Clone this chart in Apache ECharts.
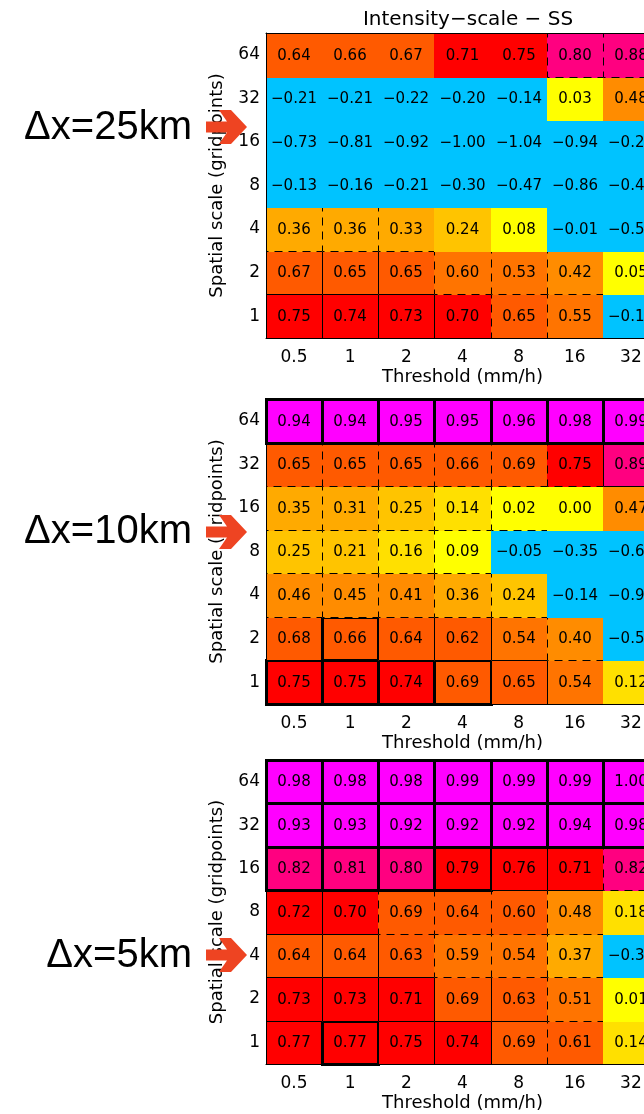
<!DOCTYPE html>
<html><head><meta charset="utf-8">
<script src="https://cdn.jsdelivr.net/npm/echarts@6/dist/echarts.min.js"></script>
<style>html,body{margin:0;padding:0;background:#fff}#c{width:644px;height:1114px}</style>
</head><body><div id="c"></div>
<script>
// ---- data ----
const thresholds = ['0.5', '1', '2', '4', '8', '16', '32'];          // mm/h
const scales = ['1', '2', '4', '8', '16', '32', '64'];               // gridpoints (bottom -> top)
const panelLabels = ['\u0394x=25km', '\u0394x=10km', '\u0394x=5km'];

// rows listed top (64) to bottom (1), columns = thresholds
const ss25 = [
  [0.64, 0.66, 0.67, 0.71, 0.75, 0.80, 0.88],
  [-0.21, -0.21, -0.22, -0.20, -0.14, 0.03, 0.48],
  [-0.73, -0.81, -0.92, -1.00, -1.04, -0.94, -0.27],
  [-0.13, -0.16, -0.21, -0.30, -0.47, -0.86, -0.45],
  [0.36, 0.36, 0.33, 0.24, 0.08, -0.01, -0.55],
  [0.67, 0.65, 0.65, 0.598, 0.53, 0.42, 0.05],
  [0.75, 0.74, 0.73, 0.70, 0.65, 0.55, -0.12]
];
const ss10 = [
  [0.94, 0.94, 0.95, 0.95, 0.96, 0.98, 0.99],
  [0.65, 0.65, 0.65, 0.66, 0.69, 0.75, 0.89],
  [0.35, 0.31, 0.25, 0.14, 0.02, 0.00, 0.47],
  [0.25, 0.21, 0.16, 0.09, -0.05, -0.35, -0.62],
  [0.46, 0.45, 0.41, 0.36, 0.24, -0.14, -0.93],
  [0.68, 0.66, 0.64, 0.62, 0.54, 0.40, -0.55],
  [0.75, 0.75, 0.74, 0.69, 0.65, 0.54, 0.12]
];
const ss5 = [
  [0.98, 0.98, 0.98, 0.99, 0.99, 0.99, 1.00],
  [0.93, 0.93, 0.92, 0.92, 0.92, 0.94, 0.98],
  [0.82, 0.81, 0.80, 0.79, 0.76, 0.71, 0.82],
  [0.72, 0.70, 0.69, 0.64, 0.60, 0.48, 0.18],
  [0.64, 0.64, 0.63, 0.59, 0.54, 0.37, -0.33],
  [0.73, 0.73, 0.71, 0.69, 0.63, 0.51, 0.01],
  [0.77, 0.77, 0.75, 0.74, 0.69, 0.61, 0.14]
];
// significance class per cell: 0 none, 1 dashed box, 2 thin box, 3 thick box
const sig25 = [
  [0, 0, 0, 0, 0, 1, 1],
  [0, 0, 0, 0, 0, 0, 0],
  [0, 0, 0, 0, 0, 0, 0],
  [0, 0, 0, 0, 0, 0, 0],
  [1, 1, 1, 0, 0, 0, 0],
  [2, 2, 2, 1, 1, 1, 0],
  [2, 2, 2, 2, 1, 1, 0]
];
const sig10 = [
  [3, 3, 3, 3, 3, 3, 3],
  [1, 1, 1, 1, 1, 1, 2],
  [1, 1, 1, 1, 1, 0, 0],
  [1, 1, 1, 1, 0, 0, 0],
  [1, 1, 1, 1, 1, 0, 0],
  [2, 3, 2, 2, 2, 1, 0],
  [3, 3, 3, 3, 2, 2, 0]
];
const sig5 = [
  [3, 3, 3, 3, 3, 3, 3],
  [3, 3, 3, 3, 3, 3, 3],
  [3, 3, 3, 3, 2, 2, 1],
  [2, 2, 1, 1, 1, 1, 0],
  [2, 2, 2, 1, 1, 1, 0],
  [2, 2, 2, 2, 2, 1, 0],
  [2, 3, 2, 2, 2, 1, 0]
];

// ---- layout / style ----
const panels = [
  { vals: ss25, sig: sig25, top: 33, height: 305, labelY: 128, arrowY: 127 },
  { vals: ss10, sig: sig10, top: 399, height: 305, labelY: 532, arrowY: 532 },
  { vals: ss5, sig: sig5, top: 760, height: 304, labelY: 956, arrowY: 955 }
];
const FONT = 'DejaVu Sans';
const pieces = [
  { lt: 0, color: '#00C3FF' },
  { gte: 0, lt: 0.1, color: '#FFFF00' },
  { gte: 0.1, lt: 0.2, color: '#FFE000' },
  { gte: 0.2, lt: 0.3, color: '#FFC400' },
  { gte: 0.3, lt: 0.4, color: '#FFAA00' },
  { gte: 0.4, lt: 0.5, color: '#FF8C00' },
  { gte: 0.5, lt: 0.6, color: '#FF7400' },
  { gte: 0.6, lt: 0.7, color: '#FF5A00' },
  { gte: 0.7, lt: 0.8, color: '#FF0000' },
  { gte: 0.8, lt: 0.9, color: '#FF0080' },
  { gte: 0.9, color: '#FF00FF' }
];

function fmt(v) {
  const s = Math.abs(v).toFixed(2);
  return (v < 0 && s !== '0.00' ? '\u2212' : '') + s;
}

function buildData(vals, sig) {
  const out = [];
  for (let yi = 0; yi < scales.length; yi++) {
    const r = scales.length - 1 - yi;
    for (let xi = 0; xi < thresholds.length; xi++) {
      out.push([xi, yi, vals[r][xi], sig[r][xi]]);
    }
  }
  return out;
}

function renderCell(params, api) {
  const xi = api.value(0), yi = api.value(1), v = api.value(2), cls = api.value(3);
  const c = api.coord([xi, yi]);
  const s = api.size([1, 1]);
  const L = Math.round(c[0] - s[0] / 2), R = Math.round(c[0] + s[0] / 2);
  const T = Math.round(c[1] - s[1] / 2), B = Math.round(c[1] + s[1] / 2);
  const children = [{
    type: 'rect', shape: { x: L, y: T, width: R - L, height: B - T + 1 },
    style: { fill: api.visual('color') }
  }];
  if (cls > 0) {
    children.push({
      type: 'rect', shape: { x: L + 0.5, y: T + 0.5, width: R - L, height: B - T },
      style: { fill: 'none', stroke: '#000', lineWidth: cls === 3 ? 3 : 1, lineDash: cls === 1 ? [8, 6] : null }
    });
  }
  children.push({
    type: 'text',
    style: { text: fmt(v), x: (L + R) / 2, y: (T + B) / 2 + 1, align: 'center', verticalAlign: 'middle',
      font: '15px "' + FONT + '"', fill: '#000' }
  });
  return { type: 'group', children };
}

const grids = [], xAxes = [], yAxes = [], series = [], graphics = [];
panels.forEach((p, i) => {
  grids.push({ left: 266, top: p.top, width: 393, height: p.height, containLabel: false, outerBoundsMode: 'none' });
  xAxes.push({
    gridIndex: i, type: 'category', data: thresholds, position: 'bottom', z: 10,
    axisTick: { show: false }, splitLine: { show: false },
    axisLine: { show: true, lineStyle: { color: '#000', width: 1 } },
    axisLabel: { color: '#000', fontSize: 17, fontFamily: FONT, margin: 11 },
    name: 'Threshold (mm/h)', nameLocation: 'middle', nameGap: 30,
    nameTextStyle: { color: '#000', fontSize: 18, fontFamily: FONT }
  });
  xAxes.push({
    gridIndex: i, type: 'category', data: thresholds, position: 'top', z: 10,
    axisTick: { show: false }, axisLabel: { show: false },
    axisLine: { show: true, lineStyle: { color: '#000', width: 1 } }
  });
  yAxes.push({
    gridIndex: i, type: 'category', data: scales, z: 10,
    axisTick: { show: false }, splitLine: { show: false },
    axisLine: { show: true, lineStyle: { color: '#000', width: 1 } },
    axisLabel: { color: '#000', fontSize: 17, fontFamily: FONT, margin: 6 },
    name: 'Spatial scale (gridpoints)', nameLocation: 'middle', nameGap: 40, nameRotate: 90,
    nameTextStyle: { color: '#000', fontSize: 18, fontFamily: FONT }
  });
  series.push({
    type: 'custom', xAxisIndex: i * 2, yAxisIndex: i, z: 2,
    encode: { x: 0, y: 1 }, dimensions: ['x', 'y', 'ss', 'sig'],
    data: buildData(p.vals, p.sig), renderItem: renderCell, silent: true
  });
  graphics.push({
    type: 'text', z: 20,
    style: { text: panelLabels[i], x: 192, y: p.labelY, align: 'right', verticalAlign: 'middle',
      font: '40px "Liberation Sans"', fill: '#000' }
  });
  graphics.push({
    type: 'polygon', z: 20, x: 206, y: p.arrowY,
    shape: { points: [[0, -5.5], [21, -5.5], [13, -17], [25, -17], [41, 0], [25, 17], [13, 17], [21, 5.5], [0, 5.5]] },
    style: { fill: '#EE4422' }
  });
});

const chart = echarts.init(document.getElementById('c'), null, { renderer: 'canvas' });
chart.setOption({
  animation: false,
  backgroundColor: '#fff',
  title: { text: 'Intensity\u2212scale \u2212 SS', left: 463, top: 5, textAlign: 'center',
    textStyle: { color: '#000', fontSize: 20, fontWeight: 'normal', fontFamily: FONT } },
  visualMap: { type: 'piecewise', show: false, dimension: 2, seriesIndex: [0, 1, 2], pieces },
  grid: grids, xAxis: xAxes, yAxis: yAxes, series, graphic: graphics
});
</script></body></html>
